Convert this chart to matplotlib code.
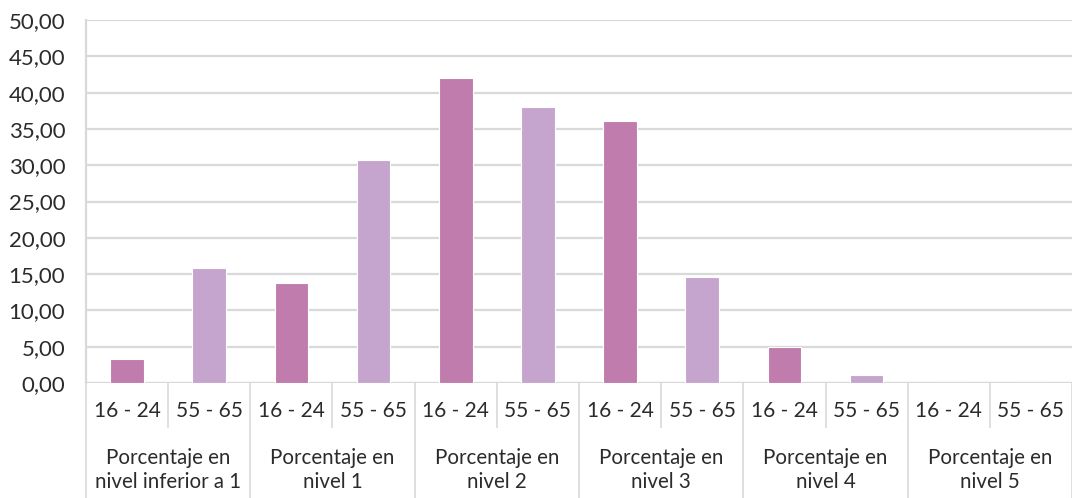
import matplotlib
matplotlib.use("Agg")
import matplotlib.pyplot as plt
import matplotlib.transforms as mtransforms
import numpy as np

groups = ["Porcentaje en\nnivel inferior a 1", "Porcentaje en\nnivel 1", "Porcentaje en\nnivel 2",
          "Porcentaje en\nnivel 3", "Porcentaje en\nnivel 4", "Porcentaje en\nnivel 5"]
ages = ["16 - 24", "55 - 65"]
values_16_24 = [3.3, 13.8, 42.0, 36.1, 4.9, 0.0]
values_55_65 = [15.8, 30.7, 38.0, 14.6, 1.1, 0.0]
yticks = [0, 5, 10, 15, 20, 25, 30, 35, 40, 45, 50]

plt.rcParams['font.family'] = ['Lato', 'DejaVu Sans']
W, H = 1072, 498
fig = plt.figure(figsize=(W/100, H/100), dpi=100)
ax = fig.add_axes([86/W, (H-383)/H, (1072-86)/W, (383-20)/H])

c1, c2 = "#C07CAD", "#C5A5CE"
grid_c = "#D9D9D9"
txt_c = "#2B2B2B"

n = len(groups)
x = np.arange(2*n)
vals = []
cols = []
for a, b in zip(values_16_24, values_55_65):
    vals += [a, b]
    cols += [c1, c2]
ax.bar(x, vals, width=0.41, color=cols, edgecolor="white", linewidth=0.8, zorder=3)

ax.set_xlim(-0.5, 2*n - 0.5)
ax.set_ylim(0, 50)
ax.set_yticks(yticks)
ax.set_yticklabels([f"{v:.2f}".replace(".", ",") for v in yticks], fontsize=16, color=txt_c)
ax.yaxis.grid(True, color=grid_c, linewidth=1.6, zorder=0)
ax.tick_params(axis='y', length=0, pad=15)
ax.tick_params(axis='x', length=0, labelbottom=False)
for s in ["top", "right", "bottom"]:
    ax.spines[s].set_visible(False)
ax.spines["left"].set_color(grid_c)
ax.spines["left"].set_linewidth(1.6)
ax.axhline(0, color=grid_c, linewidth=1.6, zorder=2)

trans = mtransforms.blended_transform_factory(ax.transData, fig.transFigure)
def fy(py):
    return 1 - py/H

# separators
for i in range(2*n + 1):
    xb = i - 0.5
    if i % 2 == 0:
        y0, y1 = fy(383), 0
    else:
        y0, y1 = fy(383), fy(427)
    ax.plot([xb, xb], [y0, y1], transform=trans, color=grid_c, linewidth=1.2, clip_on=False)

for i in range(2*n):
    ax.text(x[i], fy(411), ages[i % 2], transform=trans, ha="center", va="center",
            fontsize=15, color=txt_c)
for g in range(n):
    ax.text(2*g + 0.5, fy(470), groups[g], transform=trans, ha="center", va="center",
            fontsize=14.8, color=txt_c, linespacing=1.3)

fig.savefig("out.png", dpi=100)
